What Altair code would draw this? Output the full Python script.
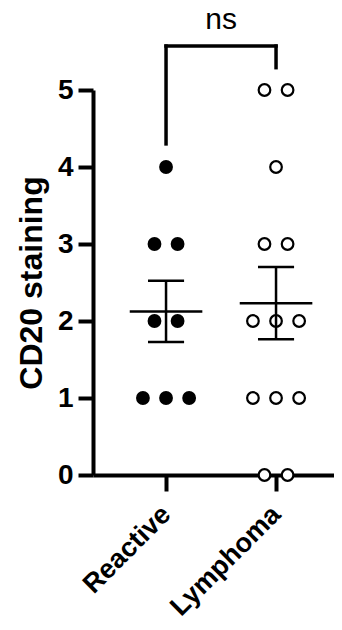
import altair as alt
import pandas as pd
import numpy as np

# ---- data ----
categories = ["Reactive", "Lymphoma"]
reactive_values = [4, 3, 3, 2, 2, 1, 1, 1]
lymphoma_values = [5, 5, 4, 3, 3, 2, 2, 2, 1, 1, 1, 0, 0]
y_ticks = [0, 1, 2, 3, 4, 5]
y_title = "CD20 staining"
sig_label = "ns"
bracket_top = 5.57
bracket_left_bottom = 4.30
bracket_right_bottom = 5.29
label_y = 5.79

FONT = "Liberation Sans"

# ---- build tables ----
groups = {categories[0]: reactive_values, categories[1]: lymphoma_values}
rows = []
for gi, cat in enumerate(categories):
    vals = groups[cat]
    for v in sorted(set(vals), reverse=True):
        n = vals.count(v)
        for i in range(n):
            rows.append({"group": cat, "value": v,
                         "xpos": gi + (i - (n - 1) / 2) * 0.21})
dots_df = pd.DataFrame(rows)

seg = []
for gi, cat in enumerate(categories):
    arr = np.array(groups[cat], dtype=float)
    m = arr.mean()
    s = arr.std(ddof=1) / np.sqrt(len(arr))
    seg.append({"x": gi - 0.33, "x2": gi + 0.33, "y": m, "y2": m})
    seg.append({"x": gi - 0.164, "x2": gi + 0.164, "y": m + s, "y2": m + s})
    seg.append({"x": gi - 0.164, "x2": gi + 0.164, "y": m - s, "y2": m - s})
    seg.append({"x": gi, "x2": gi, "y": m - s, "y2": m + s})
err_df = pd.DataFrame(seg)

br_df = pd.DataFrame([
    {"x": 0, "x2": 1, "y": bracket_top, "y2": bracket_top},
    {"x": 0, "x2": 0, "y": bracket_left_bottom, "y2": bracket_top},
    {"x": 1, "x2": 1, "y": bracket_right_bottom, "y2": bracket_top},
])
ns_df = pd.DataFrame([{"x": 0.5, "y": label_y, "t": sig_label}])

xscale = alt.Scale(domain=[-0.664, 1.527], nice=False, zero=False)
yscale = alt.Scale(domain=[0, 5], nice=False, zero=False)

label_expr = "datum.value == 0 ? '%s' : '%s'" % (categories[0], categories[1])

x_axis = alt.Axis(values=[0, 1], labelExpr=label_expr, title=None,
                  labelAngle=-45, labelAlign="right", labelBaseline="middle",
                  labelFontSize=27, labelFontWeight="bold", labelFont=FONT,
                  labelPadding=19, tickSize=16, tickWidth=4, domainWidth=4)
y_axis = alt.Axis(values=y_ticks, title=y_title, format="d",
                  labelFontSize=28, labelFontWeight="bold", labelFont=FONT,
                  labelPadding=5, tickSize=15, tickWidth=4, domainWidth=4,
                  titleFontSize=32, titleFontWeight="bold", titleFont=FONT,
                  titlePadding=9)

dots = alt.Chart(dots_df).mark_circle(size=135, stroke="black", strokeWidth=2.2, opacity=1).encode(
    x=alt.X("xpos:Q", scale=xscale, axis=x_axis),
    y=alt.Y("value:Q", scale=yscale, axis=y_axis),
    fill=alt.Fill("group:N", scale=alt.Scale(domain=categories, range=["black", "white"]), legend=None),
)

errs = alt.Chart(err_df).mark_rule(color="black", strokeWidth=2.5).encode(
    x=alt.X("x:Q", scale=xscale, axis=x_axis),
    x2="x2:Q",
    y=alt.Y("y:Q", scale=yscale, axis=y_axis),
    y2="y2:Q",
)

bracket = alt.Chart(br_df).mark_rule(color="black", strokeWidth=3.5, strokeCap="square").encode(
    x=alt.X("x:Q", scale=xscale, axis=x_axis),
    x2="x2:Q",
    y=alt.Y("y:Q", scale=yscale, axis=y_axis),
    y2="y2:Q",
)

ns = alt.Chart(ns_df).mark_text(fontSize=30, font=FONT, baseline="alphabetic", align="center", color="black").encode(
    x=alt.X("x:Q", scale=xscale, axis=x_axis),
    y=alt.Y("y:Q", scale=yscale, axis=y_axis),
    text="t:N",
)

chart = alt.layer(dots, errs, bracket, ns).properties(
    width=241, height=385,
    autosize=alt.AutoSizeParams(type="none"),
    padding={"left": 85, "top": 82, "right": 0, "bottom": 147},
).configure_view(stroke=None).configure_axis(
    grid=False, domainColor="black", tickColor="black",
    labelColor="black", titleColor="black",
)

chart.save("out.html", embed_options={"renderer": "svg", "actions": False})
